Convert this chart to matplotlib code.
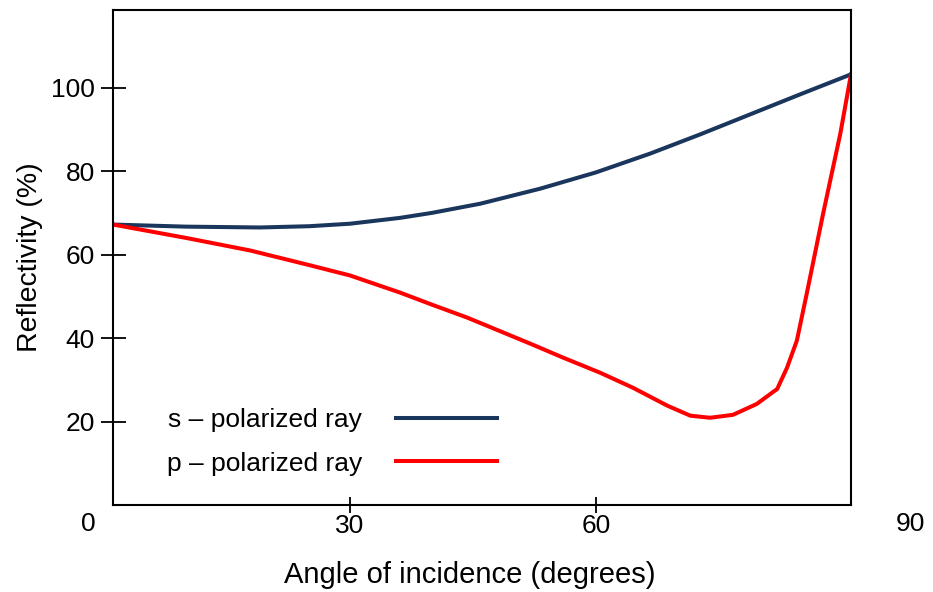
import matplotlib

matplotlib.use("Agg")
import matplotlib.pyplot as plt

plt.rcParams["font.family"] = ["Liberation Sans", "DejaVu Sans"]

# angle of incidence (degrees) and reflectivity (%)
s_angle = [1.1, 10, 19, 25, 30, 36.1, 40, 45.9, 53.2, 60, 66.6, 72.7, 78.8, 84.9, 91.1]
s_refl = [67.2, 66.7, 66.5, 66.8, 67.4, 68.8, 70.0, 72.2, 75.8, 79.7, 84.2, 88.8, 93.6, 98.4, 103.2]

p_angle = [1.1, 10, 17.8, 25, 30, 36.1, 40, 44.3, 48, 52.3, 56, 60.5, 64.5, 68.7, 71.5,
           73.9, 76.7, 79.6, 82.1, 83.3, 84.5, 85.7, 87.7, 89.8, 91.1]
p_refl = [67.2, 64.0, 61.0, 57.5, 55.0, 50.9, 48.0, 44.9, 41.9, 38.4, 35.3, 31.7, 28.1, 23.8, 21.4,
          20.9, 21.6, 24.2, 27.8, 32.9, 39.4, 50.6, 69.8, 89.0, 103.2]

x_ticks = [30, 60]
y_ticks = [20, 40, 60, 80, 100]
labels = ["s \u2013 polarized ray", "p \u2013 polarized ray"]
colors = ["#1b365d", "#ff0000"]

FS = 19

fig = plt.figure(figsize=(9.33, 5.92), dpi=100)
ax = fig.add_axes([0.1211, 0.147, 0.791, 0.836])

ax.plot(s_angle, s_refl, color=colors[0], lw=2.9, label=labels[0], solid_joinstyle="round")
ax.plot(p_angle, p_refl, color=colors[1], lw=2.9, label=labels[1], solid_joinstyle="round")

ax.set_xlim(1.1, 91.1)
ax.set_ylim(0, 118.6)
ax.set_xticks(x_ticks)
ax.set_yticks(y_ticks)
ax.tick_params(axis="x", direction="inout", length=11.5, width=1.3, labelsize=FS, pad=1)
ax.tick_params(axis="y", direction="inout", length=18, width=1.3, labelsize=FS, pad=4)
for sp in ax.spines.values():
    sp.set_linewidth(1.5)

# end labels sit outside the frame in the reference
ax.text(-0.034, -0.038, "0", transform=ax.transAxes, ha="center", va="center", fontsize=FS)
ax.text(1.080, -0.038, "90", transform=ax.transAxes, ha="center", va="center", fontsize=FS)

ax.set_xlabel("Angle of incidence (degrees)", fontsize=21)
ax.xaxis.set_label_coords(0.484, -0.114)
ax.set_ylabel("Reflectivity (%)", fontsize=20.5)
ax.yaxis.set_label_coords(-0.095, 0.5)

ax.legend(loc="upper left", bbox_to_anchor=(0.073, 0.195), frameon=False, fontsize=FS,
          markerfirst=False, handlelength=3.8, handletextpad=1.3, labelspacing=0.73,
          borderpad=0, borderaxespad=0)

fig.savefig("out.png", dpi=100)
